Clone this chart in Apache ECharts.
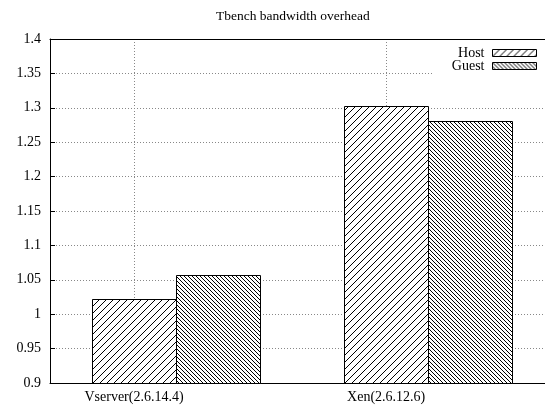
<!DOCTYPE html>
<html>
<head>
<meta charset="utf-8">
<script src="https://cdn.jsdelivr.net/npm/echarts@6/dist/echarts.min.js"></script>
<style>
html,body{margin:0;padding:0;background:#fff;}
#chart{width:545px;height:406px;}
</style>
</head>
<body>
<div id="chart"></div>
<script>
// ---- data ----
const categories = ['Vserver(2.6.14.4)', 'Xen(2.6.12.6)'];
const seriesNames = ['Host', 'Guest'];
const hostValues = [1.022, 1.302];
const guestValues = [1.057, 1.281];
const yTicks = [0.9, 0.95, 1, 1.05, 1.1, 1.15, 1.2, 1.25, 1.3, 1.35, 1.4];
const titleText = 'Tbench bandwidth overhead';

// ---- hatch patterns ----
function hatch(size, dir) {
  const c = document.createElement('canvas');
  c.width = size; c.height = size;
  const g = c.getContext('2d');
  g.fillStyle = '#fff'; g.fillRect(0, 0, size, size);
  g.strokeStyle = '#000'; g.lineWidth = 1;
  g.beginPath();
  for (let k = -1; k <= 1; k++) {
    if (dir === '/') { g.moveTo(k * size - 1, size + 1); g.lineTo(k * size + size + 1, -1); }
    else { g.moveTo(k * size - 1, -1); g.lineTo(k * size + size + 1, size + 1); }
  }
  g.stroke();
  return { image: c, repeat: 'repeat' };
}
const hostPattern = hatch(7, '/');
const guestPattern = hatch(4, '\\');

const FONT = 'Liberation Serif';
const barWidth = 1 / 3;              // in category units
const offsets = [0, 1 / 3];          // host at tick, guest to its right

function makeRender(offset, pattern) {
  return function (params, api) {
    const x = api.value(0) + offset;
    const top = api.coord([x, api.value(1)]);
    const base = api.coord([x, 0.9]);
    const w = api.size([barWidth, 0])[0];
    return {
      type: 'rect',
      shape: { x: Math.round(top[0] - w / 2) + 0.5, y: Math.round(top[1]) + 0.5, width: Math.round(w), height: Math.round(base[1] - top[1]) },
      style: { fill: pattern, stroke: '#000', lineWidth: 1 }
    };
  };
}

const chart = echarts.init(document.getElementById('chart'), null, { renderer: 'canvas' });
const xMin = -1 / 3, xMax = 1.63;
chart.setOption({
  animation: false,
  backgroundColor: '#fff',
  title: {
    text: titleText, left: 211, top: 4,
    textStyle: { fontFamily: FONT, fontSize: 13.5, fontWeight: 'normal', color: '#000' }
  },
  legend: {
    orient: 'vertical', right: 0, top: 43, align: 'right',
    padding: [3, 8, 4, 18], backgroundColor: '#fff',
    itemWidth: 44, itemHeight: 7, itemGap: -1,
    textStyle: { fontFamily: FONT, fontSize: 14, color: '#000', padding: [0, 3, 0, 0] },
    data: [
      { name: seriesNames[0], icon: 'rect', itemStyle: { color: hostPattern, borderColor: '#000', borderWidth: 1 } },
      { name: seriesNames[1], icon: 'rect', itemStyle: { color: guestPattern, borderColor: '#000', borderWidth: 1 } }
    ]
  },
  grid: { left: 50, right: 0, top: 39, bottom: 23, containLabel: false },
  xAxis: [{
    type: 'value', min: xMin, max: xMax,
    axisLine: { show: true, onZero: false, lineStyle: { color: '#000', width: 1 } },
    axisTick: { show: false, customValues: [0, 1] },
    axisLabel: {
      customValues: [0, 1], margin: 7,
      formatter: v => categories[Math.round(v)],
      fontFamily: FONT, fontSize: 14, color: '#000'
    },
    splitLine: { show: true, lineStyle: { color: '#888', type: [1, 2], width: 1 } }
  }, {
    type: 'value', min: xMin, max: xMax, position: 'top',
    axisLine: { show: true, onZero: false, lineStyle: { color: '#000', width: 1 } },
    axisTick: { show: false }, axisLabel: { show: false }, splitLine: { show: false }
  }],
  yAxis: {
    type: 'value', min: yTicks[0], max: yTicks[yTicks.length - 1], interval: 0.05,
    axisLine: { show: true, onZero: false, lineStyle: { color: '#000', width: 1 } },
    axisTick: { show: true, inside: true, length: 5, lineStyle: { color: '#000' } },
    axisLabel: {
      margin: 9, fontFamily: FONT, fontSize: 14, color: '#000',
      formatter: v => String(parseFloat(v.toFixed(2)))
    },
    splitLine: { show: true, lineStyle: { color: '#888', type: [1, 2], width: 1 } }
  },
  series: [
    {
      name: seriesNames[0], type: 'custom', renderItem: makeRender(offsets[0], hostPattern),
      itemStyle: { color: hostPattern, borderColor: '#000', borderWidth: 1 },
      encode: { x: 0, y: 1 },
      data: hostValues.map((v, i) => [i, v]), z: 3
    },
    {
      name: seriesNames[1], type: 'custom', renderItem: makeRender(offsets[1], guestPattern),
      itemStyle: { color: guestPattern, borderColor: '#000', borderWidth: 1 },
      encode: { x: 0, y: 1 },
      data: guestValues.map((v, i) => [i, v]), z: 3
    }
  ]
});
</script>
</body>
</html>
